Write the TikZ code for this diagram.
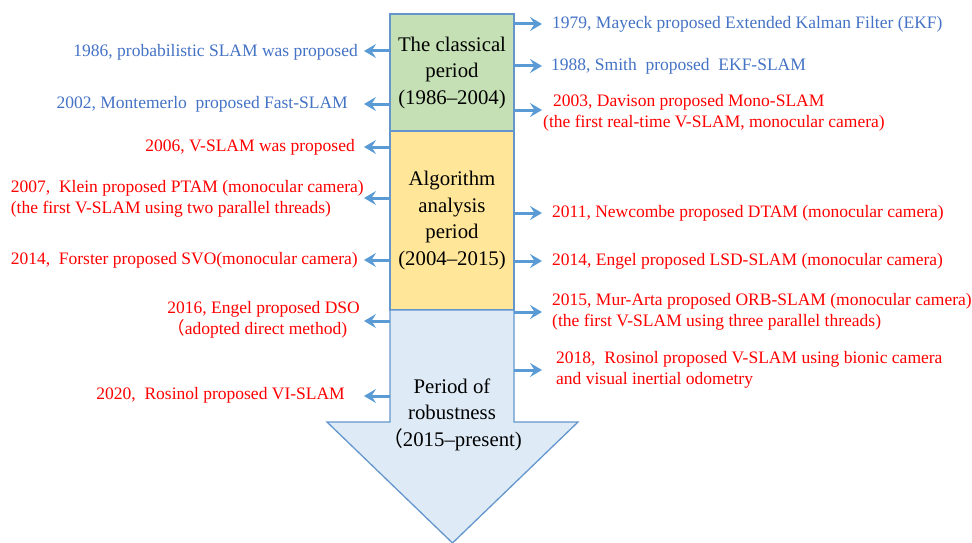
\documentclass[tikz,border=0pt]{standalone}
\usepackage{fontspec}
\setmainfont{Liberation Serif}
\newfontfamily\cjk{Noto Sans CJK SC}
\usetikzlibrary{arrows.meta}
\definecolor{gfill}{RGB}{197,224,180}
\definecolor{yfill}{RGB}{255,230,153}
\definecolor{bfill}{RGB}{222,235,247}
\definecolor{edge}{RGB}{100,150,205}
\definecolor{conncol}{RGB}{91,155,213}
\definecolor{bluetext}{RGB}{68,114,196}
\definecolor{redtext}{RGB}{255,0,0}
\tikzset{
  period/.style={draw=edge, line width=1.3pt, inner sep=0pt, align=center,
    font=\fontsize{20.8}{26.5}\selectfont, text=black},
  lab/.style={inner sep=0pt, font=\fontsize{17.5}{20.5}\selectfont},
  labL/.style={lab, anchor=east, align=right},
  labR/.style={lab, anchor=west, align=left},
  conn/.style={draw=conncol, line width=3pt, -{Stealth[length=12pt,width=14pt,inset=4.5pt]}},
}
\begin{document}
\begin{tikzpicture}[x=1pt,y=-1pt]
\useasboundingbox (0,0) rectangle (972,543);
% period boxes
\node[period, fill=gfill, minimum width=124pt, minimum height=117pt] (green) at (452,72.5)
  {The classical\\period\\(1986–2004)};
\node[period, fill=yfill, minimum width=124pt, minimum height=179pt] (yellow) at (452,220.5)
  {Algorithm\\analysis\\period\\(2004–2015)};
\draw[draw=edge, line width=1.3pt, fill=bfill]
  (390,310) -- (514,310) -- (514,422) -- (578,422) -- (452.5,543) -- (327,422) -- (390,422) -- cycle;
\node[period, draw=none] (blue) at (452,414.5)
  {Period of\\robustness\\{\cjk （}2015–present)};
\coordinate (blueW) at (390,310);
\coordinate (blueE) at (514,310);

% left labels
\node[labL, text=bluetext] (a1) at (358,52) {1986, probabilistic SLAM was proposed};
\node[labL, text=bluetext] (a2) at (348,104) {2002, Montemerlo\ \ proposed Fast-SLAM};
\node[labL, text=redtext] (a3) at (355,147) {2006, V-SLAM was proposed};
\node[labL, text=redtext, align=left] (a4) at (364,199) {2007,\ \ Klein proposed PTAM (monocular camera)\\(the first V-SLAM using two parallel threads)};
\node[labL, text=redtext] (a5) at (358,260) {2014,\ \ Forster proposed SVO(monocular camera)};
\node[labL, text=redtext, align=left] (a6) at (360,320) {2016, Engel proposed DSO\\{\cjk （}adopted direct method)};
\node[labL, text=redtext] (a7) at (345,395) {2020,\ \ Rosinol proposed VI-SLAM};

\coordinate (ta1) at (364,51);
\coordinate (ta2) at (364,104);
\coordinate (ta3) at (364,147);
\coordinate (ta4) at (364,198);
\coordinate (ta5) at (364,260);
\coordinate (ta6) at (364,321);
\coordinate (ta7) at (364,396);
\draw[conn] (green.west |- ta1) -- (ta1);
\draw[conn] (green.west |- ta2) -- (ta2);
\draw[conn] (yellow.west |- ta3) -- (ta3);
\draw[conn] (yellow.west |- ta4) -- (ta4);
\draw[conn] (yellow.west |- ta5) -- (ta5);
\draw[conn] (blueW |- ta6) -- (ta6);
\draw[conn] (blueW |- ta7) -- (ta7);

% right labels
\node[labR, text=bluetext] (b1) at (552,24) {1979, Mayeck proposed Extended Kalman Filter (EKF)};
\node[labR, text=bluetext] (b2) at (551,66) {1988, Smith\ \ proposed\ \ EKF-SLAM};
\node[labR, text=redtext] (b3) at (543,113) {\hspace{10pt}2003, Davison proposed Mono-SLAM\\(the first real-time V-SLAM, monocular camera)};
\node[labR, text=redtext] (b4) at (552,213) {2011, Newcombe proposed DTAM (monocular camera)};
\node[labR, text=redtext] (b5) at (552,261) {2014, Engel proposed LSD-SLAM (monocular camera)};
\node[labR, text=redtext] (b6) at (552,312) {2015, Mur-Arta proposed ORB-SLAM (monocular camera)\\(the first V-SLAM using three parallel threads)};
\node[labR, text=redtext] (b7) at (556,370) {2018,\ \ Rosinol proposed V-SLAM using bionic camera\\and visual inertial odometry};

\coordinate (tb1) at (542,24);
\coordinate (tb2) at (542,66);
\coordinate (tb3) at (542,110);
\coordinate (tb4) at (542,213);
\coordinate (tb5) at (542,261);
\coordinate (tb6) at (542,312);
\coordinate (tb7) at (542,370);
\draw[conn] (green.east |- tb1) -- (tb1);
\draw[conn] (green.east |- tb2) -- (tb2);
\draw[conn] (green.east |- tb3) -- (tb3);
\draw[conn] (yellow.east |- tb4) -- (tb4);
\draw[conn] (yellow.east |- tb5) -- (tb5);
\draw[conn] (blueE |- tb6) -- (tb6);
\draw[conn] (blueE |- tb7) -- (tb7);
\end{tikzpicture}
\end{document}
